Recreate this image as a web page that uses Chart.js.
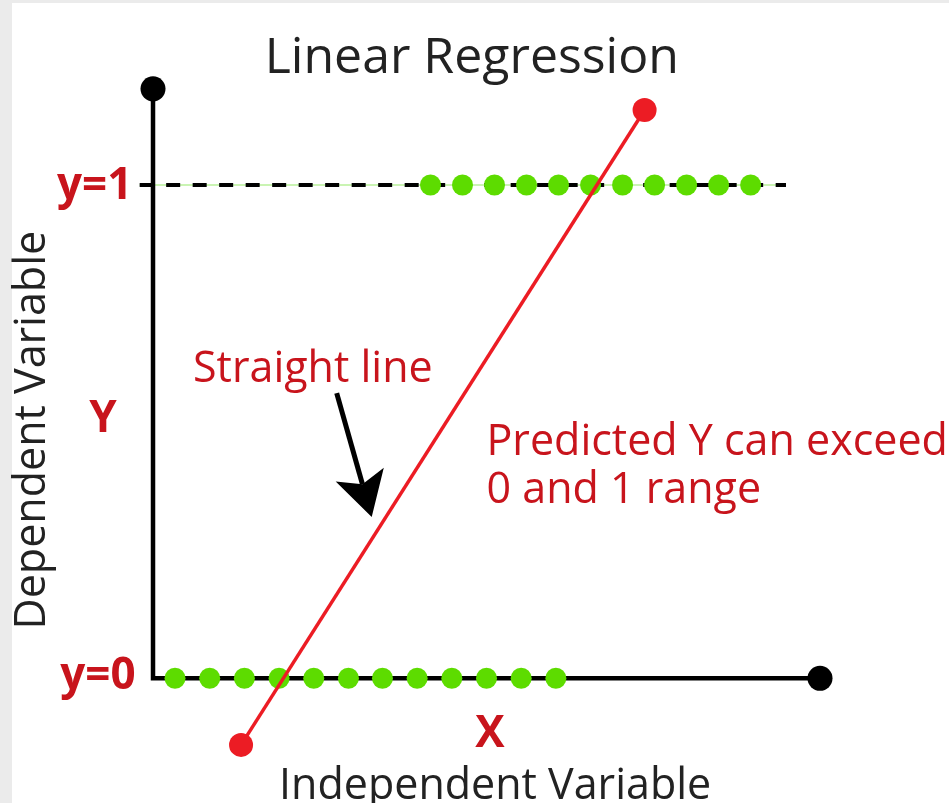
<!DOCTYPE html>
<html>
<head>
<meta charset="utf-8">
<script src="https://cdn.jsdelivr.net/npm/chart.js@4"></script>
<style>
  html, body { margin: 0; padding: 0; background: #ebebeb; }
  #wrap { position: absolute; left: 12px; top: 3px; width: 937px; height: 800px; background: #ffffff; }
  #box { position: absolute; left: -12px; top: -3px; width: 949px; height: 803px; }
</style>
</head>
<body>
<div id="wrap"><div id="box"><canvas id="c"></canvas></div></div>
<script>
// ---- data (in diagram units: x axis 0..10, y axis 0..1) ----
const axisX = [0, 0, 10];
const axisY = [1.195, 0, 0];
const thresholdX = [-0.2, 9.49];
const thresholdY = [1, 1];
const onesX = [4.16, 4.64, 5.12, 5.60, 6.08, 6.56, 7.04, 7.52, 8.00, 8.48, 8.96];
const onesY = [1, 1, 1, 1, 1, 1, 1, 1, 1, 1, 1];
const zerosX = [0.33, 0.85, 1.37, 1.89, 2.41, 2.93, 3.44, 3.96, 4.48, 5.00, 5.52, 6.04];
const zerosY = [0, 0, 0, 0, 0, 0, 0, 0, 0, 0, 0, 0];
const regX = [1.32, 7.37];
const regY = [-0.135, 1.152];
const arrowX = [2.754, 3.279];
const arrowY = [0.578, 0.327];

const titleText = 'Linear Regression';
const yTickLabels = ['y=0', 'y=1'];
const yTickValues = [0, 1];
const yName = 'Y';
const xName = 'X';
const yAxisTitle = 'Dependent Variable';
const xAxisTitle = 'Independent Variable';
const lineNote = 'Straight line';
const rangeNote = ['Predicted Y can exceed', '0 and 1 range'];

const pts = (xs, ys) => xs.map((x, i) => ({ x: x, y: ys[i] }));

const RED_TEXT = '#c8141c';
const RED_LINE = '#ec1c24';
const GREEN = '#5ddc00';
const DARK = '#222222';
const FONT = '"Open Sans", "Noto Sans", sans-serif';

const textPlugin = {
  id: 'diagramText',
  afterDatasetsDraw(chart) {
    const ctx = chart.ctx;
    const xs = chart.scales.x, ys = chart.scales.y;
    const X = v => xs.getPixelForValue(v);
    const Y = v => ys.getPixelForValue(v);
    ctx.save();
    ctx.textBaseline = 'alphabetic';

    // title
    ctx.fillStyle = DARK;
    ctx.font = '50px ' + FONT;
    ctx.textAlign = 'center';
    ctx.fillText(titleText, X(4.78), Y(1.227));

    // y tick labels
    ctx.fillStyle = RED_TEXT;
    ctx.font = 'bold 44px ' + FONT;
    ctx.textAlign = 'right';
    ctx.fillText(yTickLabels[1], X(-0.31), Y(yTickValues[1]) + 14);
    ctx.fillText(yTickLabels[0], X(-0.26), Y(yTickValues[0]) + 11);

    // axis letters
    ctx.textAlign = 'center';
    ctx.fillText(yName, X(-0.75), Y(0.5));
    ctx.fillText(xName, X(5.05), Y(-0.139));

    // axis titles
    ctx.fillStyle = DARK;
    ctx.font = '43px ' + FONT;
    ctx.fillText(xAxisTitle, X(5.13), Y(-0.244));
    ctx.save();
    ctx.translate(X(-1.62), Y(0.503));
    ctx.rotate(-Math.PI / 2);
    ctx.fillText(yAxisTitle, 0, 0);
    ctx.restore();

    // notes
    ctx.fillStyle = RED_TEXT;
    ctx.font = '43px ' + FONT;
    ctx.textAlign = 'left';
    ctx.fillText(lineNote, X(0.60), Y(0.601));
    ctx.fillText(rangeNote[0], X(5.0), Y(0.453));
    ctx.fillText(rangeNote[1], X(5.0), Y(0.355));

    // arrow
    const x0 = X(arrowX[0]), y0 = Y(arrowY[0]);
    const x1 = X(arrowX[1]), y1 = Y(arrowY[1]);
    const dx = x1 - x0, dy = y1 - y0;
    const len = Math.hypot(dx, dy);
    const ux = dx / len, uy = dy / len;
    const nx = -uy, ny = ux;
    const headLen = 44, headHalf = 25, notch = 10;
    ctx.strokeStyle = '#000';
    ctx.fillStyle = '#000';
    ctx.lineWidth = 5;
    ctx.beginPath();
    ctx.moveTo(x0, y0);
    ctx.lineTo(x1 - ux * (headLen - notch), y1 - uy * (headLen - notch));
    ctx.stroke();
    ctx.beginPath();
    ctx.moveTo(x1, y1);
    ctx.lineTo(x1 - ux * headLen + nx * headHalf, y1 - uy * headLen + ny * headHalf);
    ctx.lineTo(x1 - ux * (headLen - notch), y1 - uy * (headLen - notch));
    ctx.lineTo(x1 - ux * headLen - nx * headHalf, y1 - uy * headLen - ny * headHalf);
    ctx.closePath();
    ctx.fill();
    ctx.restore();
  }
};

new Chart(document.getElementById('c'), {
  type: 'scatter',
  data: {
    datasets: [
      { // regression line
        data: pts(regX, regY), showLine: true, order: 0,
        borderColor: RED_LINE, borderWidth: 3.5,
        pointRadius: 12, pointBackgroundColor: RED_LINE, pointBorderWidth: 0
      },
      { // ones
        data: pts(onesX, onesY), showLine: false, order: 1,
        pointRadius: 10.5, pointBackgroundColor: GREEN, pointBorderWidth: 0
      },
      { // zeros
        data: pts(zerosX, zerosY), showLine: false, order: 2,
        pointRadius: 10.5, pointBackgroundColor: GREEN, pointBorderWidth: 0
      },
      { // axes
        data: pts(axisX, axisY), showLine: true, order: 3,
        borderColor: '#000', borderWidth: 4.5, borderJoinStyle: 'miter',
        pointRadius: [12.5, 0, 12.5], pointBackgroundColor: '#000', pointBorderWidth: 0
      },
      { // dashed threshold
        data: pts(thresholdX, thresholdY), showLine: true, order: 4,
        borderColor: '#000', borderWidth: 4, borderDash: [14, 12.5],
        pointRadius: 0
      },
      { // thin guide under dashes
        data: pts(thresholdX, thresholdY), showLine: true, order: 5,
        borderColor: '#b8f09a', borderWidth: 1.5, pointRadius: 0
      }
    ]
  },
  options: {
    responsive: true,
    maintainAspectRatio: false,
    animation: false,
    events: [],
    layout: { padding: 0, autoPadding: false },
    plugins: { legend: { display: false }, tooltip: { enabled: false }, title: { display: false } },
    scales: {
      x: { type: 'linear', display: false, min: -2.294, max: 11.934 },
      y: { type: 'linear', display: false, min: -0.2528, max: 1.375 }
    }
  },
  plugins: [textPlugin]
});
</script>
</body>
</html>
